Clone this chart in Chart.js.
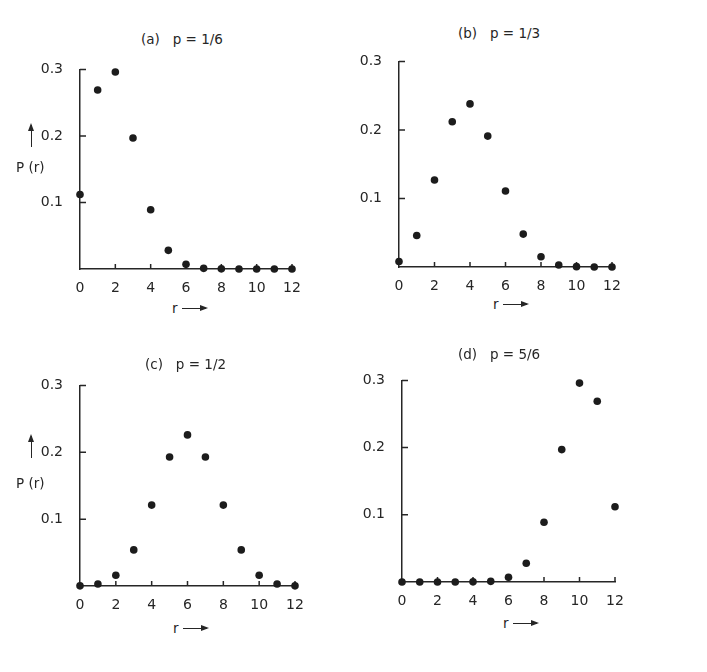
<!DOCTYPE html>
<html>
<head>
<meta charset="utf-8">
<script src="https://cdn.jsdelivr.net/npm/chart.js@4.4.1/dist/chart.umd.min.js"></script>
<style>
  body { margin: 0; background: #fff; }
  #wrap { position: relative; width: 707px; height: 672px; overflow: hidden; font-family: 'DejaVu Sans', sans-serif; color: #262626; }
  canvas { position: absolute; }
  .lbl { position: absolute; font-size: 13.5px; line-height: 14px; white-space: pre; }
  .harrow { position: absolute; height: 0; border-top: 1.5px solid #262626; }
  .harrow::after { content: ''; position: absolute; right: -2px; top: -4.5px; border-left: 8px solid #262626; border-top: 3.5px solid transparent; border-bottom: 3.5px solid transparent; }
  .varrow { position: absolute; width: 0; border-left: 1.5px solid #262626; }
  .varrow::after { content: ''; position: absolute; top: -2px; left: -4.5px; border-bottom: 8px solid #262626; border-left: 3.5px solid transparent; border-right: 3.5px solid transparent; }
</style>
</head>
<body>
<div id="wrap"></div>
<script>
// number of successes r out of 12 trials
const rValues = [0, 1, 2, 3, 4, 5, 6, 7, 8, 9, 10, 11, 12]
// P(r)
const probA = [0.112, 0.269, 0.296, 0.197, 0.089, 0.028, 0.007, 0.001, 0.0002, 0, 0, 0, 0]
const probB = [0.008, 0.046, 0.127, 0.212, 0.238, 0.191, 0.111, 0.048, 0.015, 0.003, 0.0005, 0, 0]
const probC = [0.0002, 0.003, 0.016, 0.054, 0.121, 0.193, 0.226, 0.193, 0.121, 0.054, 0.016, 0.003, 0.0002]
const probD = [0, 0, 0, 0, 0.0002, 0.001, 0.007, 0.028, 0.089, 0.197, 0.296, 0.269, 0.112]
const xTicks = [0, 2, 4, 6, 8, 10, 12]
const yTicks = [0, 0.1, 0.2, 0.3]
const titles = ['(a)   p = 1/6', '(b)   p = 1/3', '(c)   p = 1/2', '(d)   p = 5/6']

const ink = '#262626'
const YW = 50, PT = 10, PR = 18, XH = 26

// where each plot area sits on the page
const panels = [
  {data: probA, title: titles[0], axisX: 80, top: 62, bottom: 269, right: 292, tx: 141, ty: 32, yLabel: true, rx: 172, ry: 301},
  {data: probB, title: titles[1], axisX: 399, top: 54, bottom: 267, right: 612, tx: 458, ty: 26, yLabel: false, rx: 493, ry: 297},
  {data: probC, title: titles[2], axisX: 80, top: 378, bottom: 586, right: 295, tx: 145, ty: 357, yLabel: true, rx: 173, ry: 621},
  {data: probD, title: titles[3], axisX: 402, top: 373, bottom: 582, right: 615, tx: 458, ty: 347, yLabel: false, rx: 503, ry: 616}
]

const wrap = document.getElementById('wrap')

function addLabel (text, x, y) {
  const d = document.createElement('div')
  d.className = 'lbl'
  d.style.left = x + 'px'
  d.style.top = y + 'px'
  d.textContent = text
  wrap.appendChild(d)
}

function addArrow (cls, x, y, len) {
  const d = document.createElement('div')
  d.className = cls
  d.style.left = x + 'px'
  d.style.top = y + 'px'
  if (cls === 'harrow') d.style.width = len + 'px'
  else d.style.height = len + 'px'
  wrap.appendChild(d)
}

// short tick marks pointing into the plot
const innerTicks = {
  id: 'innerTicks',
  beforeDatasetsDraw (chart) {
    const {ctx, chartArea, scales: {x, y}} = chart
    ctx.save()
    ctx.strokeStyle = ink
    ctx.lineWidth = 1.5
    ctx.beginPath()
    x.ticks.forEach((t) => {
      if (t.value === 0) return
      const px = x.getPixelForValue(t.value)
      ctx.moveTo(px, chartArea.bottom)
      ctx.lineTo(px, chartArea.bottom - 5)
    })
    y.ticks.forEach((t) => {
      if (t.value === 0) return
      const py = y.getPixelForValue(t.value)
      ctx.moveTo(chartArea.left, py)
      ctx.lineTo(chartArea.left + 6, py)
    })
    ctx.stroke()
    ctx.restore()
  }
}

const font = {family: "'DejaVu Sans', sans-serif", size: 14}

panels.forEach((p) => {
  const c = document.createElement('canvas')
  const w = YW + (p.right - p.axisX) + PR
  const h = PT + (p.bottom - p.top) + XH
  c.width = w
  c.height = h
  c.style.left = (p.axisX - YW) + 'px'
  c.style.top = (p.top - PT) + 'px'
  wrap.appendChild(c)

  new Chart(c, {
    type: 'scatter',
    data: {
      datasets: [{
        data: rValues.map((r, i) => ({x: r, y: p.data[i]})),
        pointRadius: 3.8,
        pointBackgroundColor: '#1c1c1c',
        pointBorderWidth: 0,
        clip: false
      }]
    },
    options: {
      responsive: false,
      animation: false,
      layout: {padding: {top: PT, right: PR, left: 0, bottom: 0}},
      plugins: {legend: {display: false}, tooltip: {enabled: false}},
      scales: {
        x: {
          type: 'linear', min: 0, max: 12,
          afterBuildTicks: (s) => { s.ticks = xTicks.map((v) => ({value: v})) },
          afterFit: (s) => { s.height = XH },
          grid: {display: false},
          border: {color: ink, width: 1.5},
          ticks: {color: ink, font: font, padding: 3, maxRotation: 0, autoSkip: false}
        },
        y: {
          min: 0, max: 0.3,
          afterBuildTicks: (s) => { s.ticks = yTicks.map((v) => ({value: v})) },
          afterFit: (s) => { s.width = YW },
          grid: {display: false},
          border: {color: ink, width: 1.5},
          ticks: {color: ink, font: font, padding: 9, callback: (v) => v === 0 ? '' : v.toFixed(1)}
        }
      }
    },
    plugins: [innerTicks]
  })

  addLabel(p.title, p.tx, p.ty)
  addLabel('r', p.rx, p.ry)
  addArrow('harrow', p.rx + 10, p.ry + 7, 24)
  if (p.yLabel) {
    addLabel('P (r)', 16, p.top === 62 ? 160 : 476)
    addArrow('varrow', 31, p.top === 62 ? 125 : 436, 22)
  }
})
</script>
</body>
</html>
